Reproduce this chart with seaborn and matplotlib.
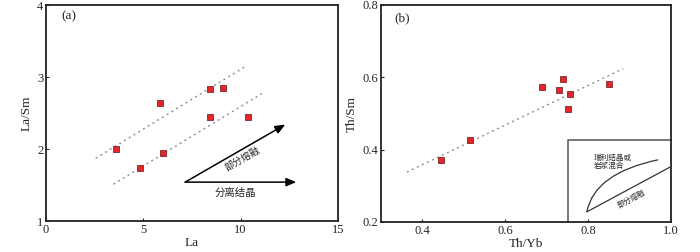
import numpy as np
import pandas as pd
import matplotlib
matplotlib.use("Agg")
import matplotlib.pyplot as plt
from matplotlib.path import Path
from matplotlib.patches import PathPatch
import seaborn as sns

# panel (a): La vs La/Sm
la = [3.58, 4.82, 5.85, 6.0, 8.4, 9.07, 8.4, 10.37]
la_sm = [2.0, 1.74, 2.64, 1.95, 2.83, 2.85, 2.44, 2.44]
trend_a_upper_x = [2.55, 10.2]
trend_a_upper_y = [1.87, 3.14]
trend_a_lower_x = [3.46, 11.09]
trend_a_lower_y = [1.51, 2.77]
arrow_start = (7.15, 1.54)
arrow_pm_end = (12.29, 2.34)
arrow_fc_end = (12.86, 1.54)

# panel (b): Th/Yb vs Th/Sm
th_yb = [0.446, 0.516, 0.689, 0.729, 0.740, 0.756, 0.751, 0.851]
th_sm = [0.372, 0.428, 0.573, 0.564, 0.595, 0.554, 0.513, 0.581]
trend_b_x = [0.363, 0.885]
trend_b_y = [0.338, 0.624]
# inset schematic
inset_x0, inset_y1 = 0.752, 0.428
curve_pts = [(0.797, 0.228), (0.815, 0.335), (0.969, 0.372)]
pm_line_x = [0.797, 0.998]
pm_line_y = [0.228, 0.352]

df_a = pd.DataFrame({"La": la, "La/Sm": la_sm})
df_b = pd.DataFrame({"Th/Yb": th_yb, "Th/Sm": th_sm})

sns.set_style("ticks")
plt.rcParams["font.family"] = ["Liberation Serif", "Noto Sans CJK SC"]
plt.rcParams["xtick.direction"] = "in"
plt.rcParams["ytick.direction"] = "in"
cjk = ["Noto Sans CJK SC", "DejaVu Sans"]

fig = plt.figure(figsize=(7, 2.52), dpi=100)
ax1 = fig.add_axes([46 / 700, 31 / 252, 292 / 700, 216 / 252])
ax2 = fig.add_axes([380.7 / 700, 30 / 252, 290.3 / 700, 217 / 252])

mk = dict(marker="s", s=16, color="#e3262b", edgecolor="#6b1010", linewidth=0.5, zorder=3)
dash = dict(color="#909090", lw=1.0, linestyle=(0, (1.5, 2.5)))

# ---- (a)
ax1.plot(trend_a_upper_x, trend_a_upper_y, **dash)
ax1.plot(trend_a_lower_x, trend_a_lower_y, **dash)
sns.scatterplot(data=df_a, x="La", y="La/Sm", ax=ax1, legend=False, **mk)
ap = dict(arrowstyle="-|>,head_length=0.6,head_width=0.25", color="black", lw=1.1, shrinkA=0, shrinkB=0)
ax1.annotate("", xy=arrow_pm_end, xytext=arrow_start, arrowprops=ap)
ax1.annotate("", xy=arrow_fc_end, xytext=arrow_start, arrowprops=ap)
ax1.text(10.1, 1.86, "部分熔融", family=cjk, fontsize=7, rotation=30,
         ha="center", va="center", rotation_mode="anchor")
ax1.text(9.72, 1.39, "分离结晶", family=cjk, fontsize=7.5, ha="center", va="center")
ax1.text(1.15, 3.84, "(a)", fontsize=9.5, ha="center", va="center")
ax1.set_xlim(0, 15)
ax1.set_ylim(1, 4)
ax1.set_xticks([0, 5, 10, 15])
ax1.set_yticks([1, 2, 3, 4])

# ---- (b)
ax2.plot(trend_b_x, trend_b_y, **dash)
sns.scatterplot(data=df_b, x="Th/Yb", y="Th/Sm", ax=ax2, legend=False, **mk)
ax2.plot([inset_x0, inset_x0, 1.0], [0.2, inset_y1, inset_y1], color="#6e6e6e", lw=1.3,
         clip_on=False)
path = Path(curve_pts, [Path.MOVETO, Path.CURVE3, Path.CURVE3])
ax2.add_patch(PathPatch(path, fill=False, color="#333333", lw=0.9))
ax2.plot(pm_line_x, pm_line_y, color="#333333", lw=0.9)
ax2.text(0.813, 0.367, "瑞利结晶或\n岩浆混合", family=cjk, fontsize=5.5,
         ha="left", va="center", linespacing=1.0)
ax2.text(0.905, 0.263, "部分熔融", family=cjk, fontsize=5.5, rotation=28.5,
         ha="center", va="center", rotation_mode="anchor")
ax2.text(0.351, 0.763, "(b)", fontsize=9.5, ha="center", va="center")
ax2.set_xlim(0.3, 1.0)
ax2.set_ylim(0.2, 0.8)
ax2.set_xticks([0.4, 0.6, 0.8, 1.0])
ax2.set_xticklabels(["0.4", "0.6", "0.8", "1.0"])
ax2.set_yticks([0.2, 0.4, 0.6, 0.8])
ax2.set_yticklabels(["0.2", "0.4", "0.6", "0.8"])

for ax in (ax1, ax2):
    for sp in ax.spines.values():
        sp.set_linewidth(1.3)
        sp.set_color("#222222")
    ax.tick_params(length=2.5, width=0.8, pad=2, labelsize=9)
    ax.xaxis.label.set_size(9.5)
    ax.yaxis.label.set_size(9.5)
    ax.xaxis.labelpad = 1
    ax.yaxis.labelpad = 3

fig.savefig("out.png", dpi=100)
